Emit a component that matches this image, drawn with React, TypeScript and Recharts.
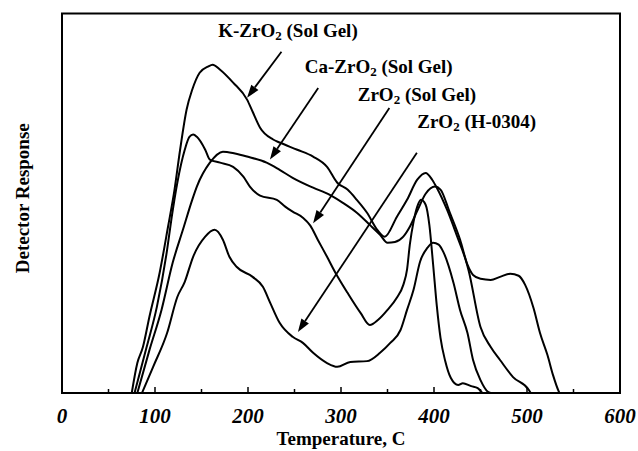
import React from "react";
import {
  LineChart,
  Line,
  XAxis,
  YAxis,
  ReferenceArea,
  ReferenceLine,
  ReferenceDot,
} from "recharts";

// temperature (C) vs detector response (arbitrary units, 0-100 = plot height)
const kZrO2 = [
  { t: 75, y: 0 }, { t: 81, y: 7.9 }, { t: 87, y: 12.1 }, { t: 94, y: 20.1 },
  { t: 105, y: 31.7 }, { t: 114, y: 43.8 }, { t: 121, y: 53.6 }, { t: 127, y: 64.1 },
  { t: 134, y: 74.7 }, { t: 140, y: 79.9 }, { t: 148, y: 84.4 }, { t: 157, y: 86.0 },
  { t: 162, y: 86.5 }, { t: 170, y: 85.2 }, { t: 184, y: 81.8 }, { t: 199, y: 77.3 },
  { t: 205, y: 74.1 }, { t: 213, y: 69.9 }, { t: 227, y: 66.8 }, { t: 234, y: 66.0 },
  { t: 253, y: 64.1 }, { t: 270, y: 62.3 }, { t: 285, y: 59.6 }, { t: 296, y: 55.4 },
  { t: 307, y: 53.6 }, { t: 317, y: 50.9 }, { t: 328, y: 47.5 }, { t: 339, y: 43.0 },
  { t: 347, y: 41.2 }, { t: 360, y: 46.4 }, { t: 371, y: 50.9 }, { t: 382, y: 56.2 },
  { t: 391, y: 58.0 }, { t: 398, y: 56.2 }, { t: 403, y: 54.1 }, { t: 414, y: 48.3 },
  { t: 425, y: 41.2 }, { t: 434, y: 35.1 }, { t: 437, y: 32.5 }, { t: 450, y: 17.4 },
  { t: 461, y: 12.1 }, { t: 471, y: 8.7 }, { t: 485, y: 4.2 }, { t: 502, y: 0.8 },
  { t: 504, y: 0 },
];

const caZrO2 = [
  { t: 81, y: 0 }, { t: 94, y: 11.3 }, { t: 107, y: 21.9 }, { t: 119, y: 34.3 },
  { t: 130, y: 43.0 }, { t: 140, y: 50.9 }, { t: 145, y: 54.4 }, { t: 159, y: 60.7 },
  { t: 173, y: 63.6 }, { t: 186, y: 63.1 }, { t: 199, y: 62.3 }, { t: 220, y: 60.7 },
  { t: 234, y: 58.8 }, { t: 248, y: 56.7 }, { t: 270, y: 54.1 }, { t: 288, y: 52.2 },
  { t: 302, y: 50.1 }, { t: 317, y: 47.5 }, { t: 331, y: 44.3 }, { t: 342, y: 41.7 },
  { t: 350, y: 39.6 }, { t: 358, y: 39.8 }, { t: 367, y: 41.2 }, { t: 374, y: 43.8 },
  { t: 382, y: 48.0 }, { t: 391, y: 52.5 }, { t: 401, y: 54.4 }, { t: 407, y: 53.6 },
  { t: 417, y: 47.5 }, { t: 428, y: 40.4 }, { t: 436, y: 33.8 }, { t: 442, y: 31.1 },
  { t: 450, y: 30.1 }, { t: 461, y: 29.8 }, { t: 471, y: 30.6 }, { t: 482, y: 31.4 },
  { t: 491, y: 30.9 }, { t: 498, y: 28.5 }, { t: 507, y: 22.4 }, { t: 514, y: 15.8 },
  { t: 522, y: 10.0 }, { t: 528, y: 4.7 }, { t: 534, y: 0.5 }, { t: 535, y: 0 },
];

const zrO2SolGel = [
  { t: 78, y: 0 }, { t: 91, y: 12.1 }, { t: 102, y: 22.7 }, { t: 113, y: 37.7 },
  { t: 118, y: 46.4 }, { t: 124, y: 55.4 }, { t: 132, y: 64.1 }, { t: 137, y: 67.5 },
  { t: 141, y: 68.1 }, { t: 145, y: 67.5 }, { t: 154, y: 64.1 }, { t: 159, y: 61.5 },
  { t: 170, y: 60.7 }, { t: 184, y: 59.6 }, { t: 195, y: 57.0 }, { t: 202, y: 54.4 },
  { t: 213, y: 52.0 }, { t: 231, y: 50.9 }, { t: 240, y: 49.1 }, { t: 248, y: 47.8 },
  { t: 259, y: 46.2 }, { t: 267, y: 44.1 }, { t: 275, y: 40.4 }, { t: 285, y: 35.9 },
  { t: 294, y: 31.7 }, { t: 307, y: 26.4 }, { t: 321, y: 21.1 }, { t: 331, y: 17.9 },
  { t: 340, y: 19.3 }, { t: 350, y: 21.9 }, { t: 360, y: 25.1 }, { t: 367, y: 28.5 },
  { t: 371, y: 32.5 }, { t: 374, y: 39.1 }, { t: 378, y: 45.1 }, { t: 382, y: 49.1 },
  { t: 386, y: 50.9 }, { t: 391, y: 49.6 }, { t: 395, y: 44.3 }, { t: 399, y: 34.0 },
  { t: 403, y: 23.0 }, { t: 407, y: 14.5 }, { t: 412, y: 8.5 }, { t: 418, y: 4.0 },
  { t: 426, y: 2.1 }, { t: 431, y: 2.6 }, { t: 440, y: 1.8 }, { t: 447, y: 1.3 },
  { t: 452, y: 0 },
];

const zrO2H0304 = [
  { t: 86, y: 0 }, { t: 98, y: 6.9 }, { t: 113, y: 15.8 }, { t: 124, y: 25.3 },
  { t: 132, y: 29.3 }, { t: 141, y: 35.9 }, { t: 154, y: 41.2 }, { t: 164, y: 43.0 },
  { t: 173, y: 40.4 }, { t: 180, y: 35.9 }, { t: 188, y: 33.2 }, { t: 205, y: 30.6 },
  { t: 216, y: 28.0 }, { t: 224, y: 23.7 }, { t: 234, y: 18.5 }, { t: 248, y: 14.8 },
  { t: 259, y: 13.2 }, { t: 270, y: 10.6 }, { t: 285, y: 7.9 }, { t: 296, y: 6.9 },
  { t: 310, y: 8.2 }, { t: 328, y: 8.4 }, { t: 342, y: 10.6 }, { t: 353, y: 13.2 },
  { t: 364, y: 16.6 }, { t: 371, y: 21.9 }, { t: 378, y: 27.2 }, { t: 385, y: 34.6 },
  { t: 393, y: 38.3 }, { t: 399, y: 39.6 }, { t: 405, y: 39.1 }, { t: 410, y: 37.2 },
  { t: 421, y: 29.0 }, { t: 428, y: 21.9 }, { t: 436, y: 15.8 }, { t: 442, y: 8.7 },
  { t: 450, y: 3.4 }, { t: 458, y: 0.3 }, { t: 461, y: 0 },
];

const xTicks = [0, 50, 100, 150, 200, 250, 300, 350, 400, 450, 500, 550, 600];

// annotation text + arrow (tail -> head) in data coordinates
const labels = [
  { prefix: "K-", rest: " (Sol Gel)", t: 168, y: 93.7, tail: [236, 89.9], head: [199, 77.8] },
  { prefix: "Ca-", rest: " (Sol Gel)", t: 261, y: 84.4, tail: [275.5, 80.4], head: [223.6, 61.5] },
  { prefix: "", rest: " (Sol Gel)", t: 318, y: 77.0, tail: [352, 75.1], head: [270, 44.7] },
  { prefix: "", rest: " (H-0304)", t: 382, y: 69.7, tail: [381.6, 63.3], head: [253.7, 16.1] },
];

const serif = "'Liberation Serif', 'Times New Roman', serif";

function TempTick(props: any) {
  const { x, y, payload } = props;
  const v = payload.value;
  const major = v % 100 === 0;
  return (
    <g>
      <line x1={x} x2={x} y1={y} y2={y - (major ? 6 : 4)} stroke="#000" strokeWidth={1.5} />
      {major && (
        <text
          x={x}
          y={y + 30}
          textAnchor="middle"
          fontFamily={serif}
          fontWeight="bold"
          fontStyle="italic"
          fontSize={21}
          fill="#000"
        >
          {v}
        </text>
      )}
    </g>
  );
}

function Arrow(props: any) {
  const { x1, y1, x2, y2 } = props;
  const ang = Math.atan2(y2 - y1, x2 - x1);
  const len = 13;
  const half = 4.5;
  const bx = x2 - len * Math.cos(ang);
  const by = y2 - len * Math.sin(ang);
  const px = -Math.sin(ang) * half;
  const py = Math.cos(ang) * half;
  return (
    <g>
      <line x1={x1} y1={y1} x2={bx} y2={by} stroke="#000" strokeWidth={1.8} />
      <polygon
        points={`${x2},${y2} ${bx + px},${by + py} ${bx - px},${by - py}`}
        fill="#000"
      />
    </g>
  );
}

function labelShape(prefix: string, rest: string) {
  return (p: any) => (
    <text x={p.cx} y={p.cy} fontFamily={serif} fontWeight="bold" fontSize={19} fill="#000">
      {prefix}ZrO
      <tspan fontSize={13} dy={3}>2</tspan>
      <tspan dy={-3}>{rest}</tspan>
    </text>
  );
}

export default function App() {
  const series = [kZrO2, caZrO2, zrO2SolGel, zrO2H0304];
  return (
    <div style={{ position: "absolute", left: 0, top: 0, width: 638, height: 451, background: "#fff" }}>
      <LineChart width={638} height={451} margin={{ top: 13.5, right: 18, bottom: 0, left: 0 }}>
        <XAxis
          type="number"
          dataKey="t"
          domain={[0, 600]}
          ticks={xTicks}
          interval={0}
          tickSize={0}
          tickMargin={0}
          axisLine={false}
          tickLine={false}
          tick={<TempTick />}
          height={58}
          allowDataOverflow
          label={{
            value: "Temperature, C",
            position: "insideBottom",
            offset: 6,
            fontFamily: serif,
            fontWeight: "bold",
            fontSize: 19,
            fill: "#000",
          }}
        />
        <YAxis
          type="number"
          dataKey="y"
          domain={[0, 100]}
          width={62}
          tick={false}
          axisLine={false}
          tickLine={false}
          allowDataOverflow
          label={{
            content: (p: any) => {
              const vb = p.viewBox || {};
              const cx = (vb.x ?? 0) + 22;
              const cy = (vb.y ?? 0) + (vb.height ?? 0) / 2 - 5;
              return (
                <text
                  x={cx}
                  y={cy}
                  transform={`rotate(-90 ${cx} ${cy})`}
                  textAnchor="middle"
                  dominantBaseline="central"
                  fontFamily={serif}
                  fontWeight="bold"
                  fontSize={19}
                  fill="#000"
                >
                  Detector Response
                </text>
              );
            },
          }}
        />
        <ReferenceArea
          x1={0}
          x2={600}
          y1={0}
          y2={100}
          fill="none"
          fillOpacity={0}
          stroke="#000"
          strokeWidth={2}
        />
        {series.map((d, i) => (
          <Line
            key={i}
            data={d}
            dataKey="y"
            type="monotone"
            stroke="#000"
            strokeWidth={2}
            dot={false}
            activeDot={false}
            isAnimationActive={false}
          />
        ))}
        {labels.map((l, i) => (
          <ReferenceLine
            key={"a" + i}
            segment={[
              { x: l.tail[0], y: l.tail[1] },
              { x: l.head[0], y: l.head[1] },
            ]}
            shape={Arrow}
          />
        ))}
        {labels.map((l, i) => (
          <ReferenceDot
            key={"l" + i}
            x={l.t}
            y={l.y}
            r={0}
            shape={labelShape(l.prefix, l.rest)}
          />
        ))}
      </LineChart>
    </div>
  );
}
